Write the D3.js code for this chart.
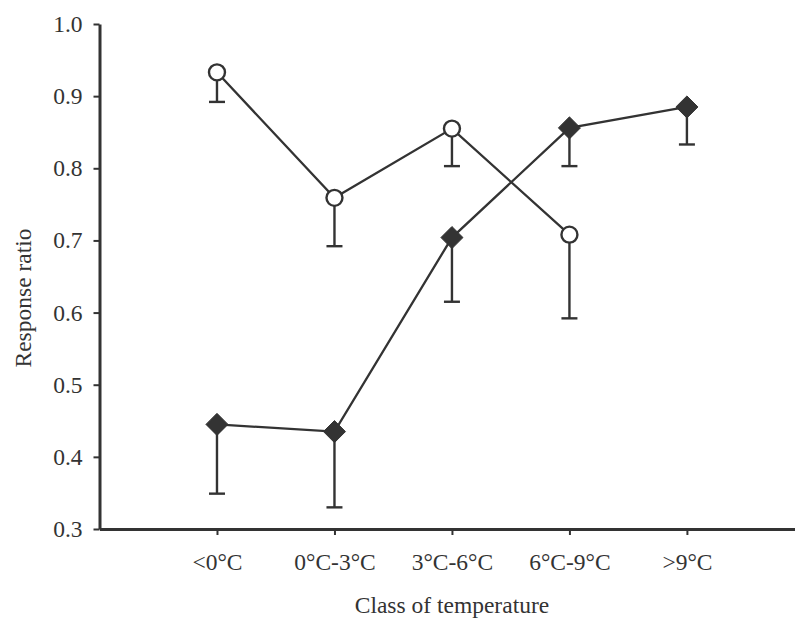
<!DOCTYPE html>
<html>
<head>
<meta charset="utf-8">
<script src="https://cdn.jsdelivr.net/npm/d3@7"></script>
<style>
  html, body { margin: 0; padding: 0; background: #fff; }
  svg { display: block; }
  text { font-family: "Liberation Serif", "Times New Roman", serif; fill: #333; }
</style>
</head>
<body>
<svg id="chart" width="795" height="619"></svg>
<script>
// Temperature classes on the x axis
const categories = ["<0°C", "0°C-3°C", "3°C-6°C", "6°C-9°C", ">9°C"];

// Open-circle series (no value for >9°C)
const circleValues = [0.933, 0.759, 0.855, 0.708, null];
const circleErrors = [0.041, 0.067, 0.052, 0.116, null];

// Filled-diamond series
const diamondValues = [0.445, 0.435, 0.704, 0.856, 0.885];
const diamondErrors = [0.096, 0.105, 0.089, 0.053, 0.052];

// Y axis ticks
const yTicks = [0.3, 0.4, 0.5, 0.6, 0.7, 0.8, 0.9, 1.0];

const ink = "#333";
const svg = d3.select("#chart");

const x = d3.scaleLinear().domain([-1, 4.92]).range([99.5, 795]);
const y = d3.scaleLinear().domain([0.3, 1.0]).range([529, 24]);

// Y axis
const yAxis = svg.append("g")
  .attr("transform", "translate(99.5,0)")
  .call(d3.axisLeft(y).tickValues(yTicks).tickFormat(d3.format(".1f")).tickSize(6).tickSizeOuter(0).tickPadding(11));
yAxis.select(".domain").attr("stroke", ink).attr("stroke-width", 3);
yAxis.selectAll(".tick line").attr("stroke", ink).attr("stroke-width", 2);
yAxis.selectAll(".tick text").attr("font-size", 23.5).attr("fill", ink)
  .style("font-family", "'Liberation Serif', serif");

// X axis
const xAxis = svg.append("g")
  .attr("transform", "translate(0,529)")
  .call(d3.axisBottom(x).tickValues(d3.range(categories.length))
    .tickFormat(i => categories[i]).tickSize(6).tickSizeOuter(0).tickPadding(18));
xAxis.select(".domain").attr("stroke", ink).attr("stroke-width", 3);
xAxis.selectAll(".tick line").attr("stroke", ink).attr("stroke-width", 2);
xAxis.selectAll(".tick text").attr("font-size", 23.5).attr("fill", ink)
  .style("font-family", "'Liberation Serif', serif");

// Axis titles
svg.append("text")
  .attr("x", x(2)).attr("y", 613)
  .attr("text-anchor", "middle")
  .attr("font-size", 23.5)
  .text("Class of temperature");

svg.append("text")
  .attr("transform", "translate(31,298) rotate(-90)")
  .attr("text-anchor", "middle")
  .attr("font-size", 23.5)
  .text("Response ratio");

function series(values, errors) {
  return values.map((v, i) => ({ i, v, e: errors[i] })).filter(d => d.v != null);
}

const circles = series(circleValues, circleErrors);
const diamonds = series(diamondValues, diamondErrors);

const line = d3.line().x(d => x(d.i)).y(d => y(d.v));

// Error bars (lower side only)
function drawErrors(data) {
  const g = svg.append("g").attr("stroke", ink).attr("stroke-width", 2.4);
  g.selectAll("line.stem").data(data).join("line")
    .attr("x1", d => x(d.i)).attr("x2", d => x(d.i))
    .attr("y1", d => y(d.v)).attr("y2", d => y(d.v - d.e));
  g.selectAll("line.cap").data(data).join("line")
    .attr("x1", d => x(d.i) - 8).attr("x2", d => x(d.i) + 8)
    .attr("y1", d => y(d.v - d.e)).attr("y2", d => y(d.v - d.e));
}
drawErrors(circles);
drawErrors(diamonds);

// Connecting lines
svg.append("path").datum(circles).attr("d", line)
  .attr("fill", "none").attr("stroke", ink).attr("stroke-width", 2.3);
svg.append("path").datum(diamonds).attr("d", line)
  .attr("fill", "none").attr("stroke", ink).attr("stroke-width", 2.3);

// Markers
svg.append("g").selectAll("circle").data(circles).join("circle")
  .attr("cx", d => x(d.i)).attr("cy", d => y(d.v)).attr("r", 8)
  .attr("fill", "#fff").attr("stroke", ink).attr("stroke-width", 2.4);

const diamondSym = d3.symbol().type(d3.symbolDiamond2).size(310);
svg.append("g").selectAll("path").data(diamonds).join("path")
  .attr("transform", d => `translate(${x(d.i)},${y(d.v)})`)
  .attr("d", diamondSym)
  .attr("fill", ink).attr("stroke", ink).attr("stroke-width", 1);
</script>
</body>
</html>
